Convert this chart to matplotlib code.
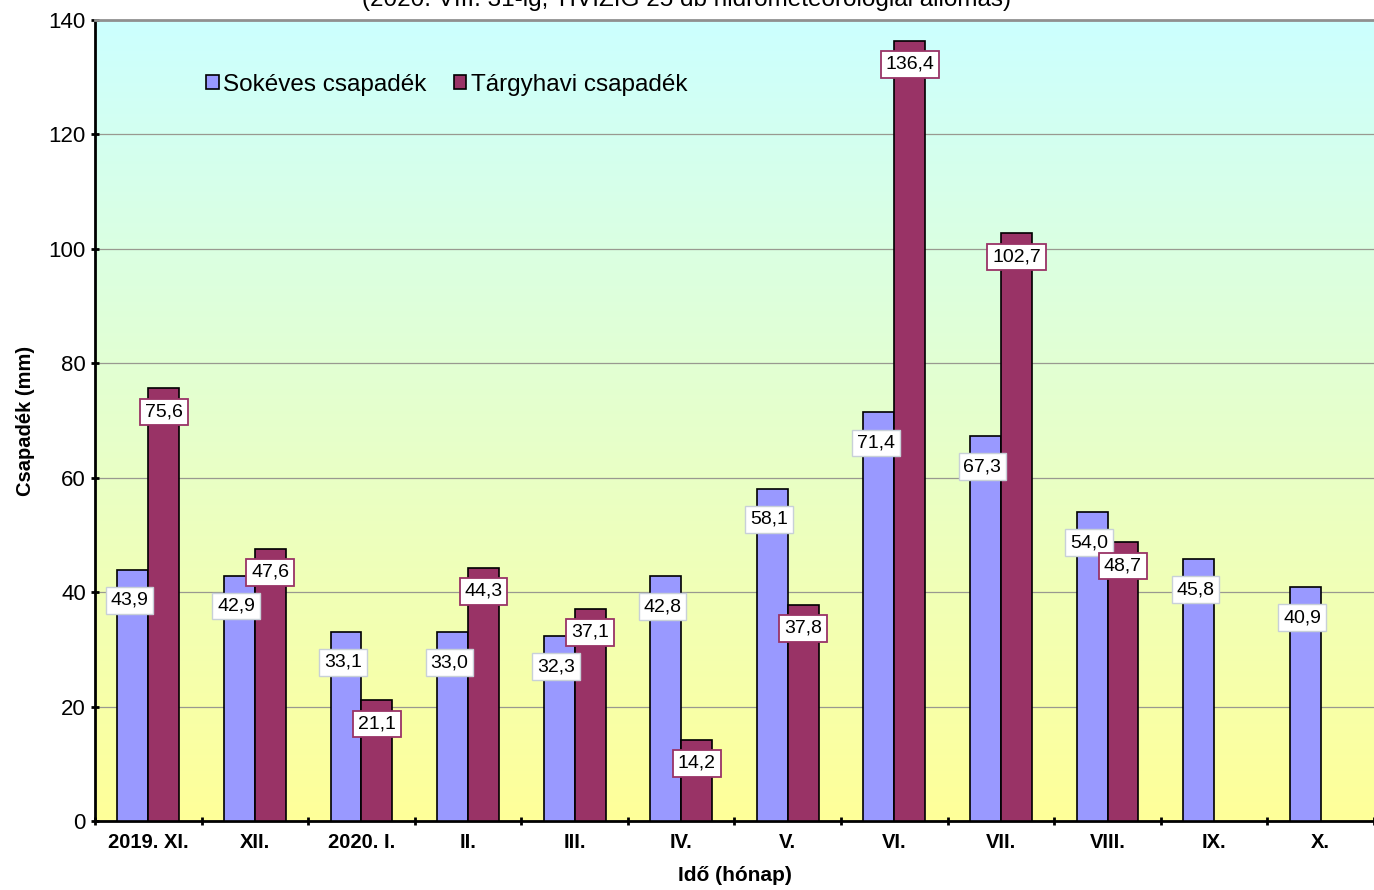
import matplotlib.pyplot as plt
import numpy as np

plt.rcParams["font.family"] = ["Liberation Sans", "DejaVu Sans"]

honapok = ["2019. XI.", "XII.", "2020. I.", "II.", "III.", "IV.", "V.", "VI.",
           "VII.", "VIII.", "IX.", "X."]
sokeves = [43.9, 42.9, 33.1, 33.0, 32.3, 42.8, 58.1, 71.4, 67.3, 54.0, 45.8, 40.9]
targyhavi = [75.6, 47.6, 21.1, 44.3, 37.1, 14.2, 37.8, 136.4, 102.7, 48.7, None, None]


def fmt(v):
    return f"{v:.1f}".replace(".", ",")


fig = plt.figure(figsize=(13.74, 8.90), dpi=100)
ax = fig.add_axes([95 / 1374, 69 / 890, 1279 / 1374, 801 / 890])

# háttér színátmenet (cián -> sárga)
top = np.array([0.80, 1.0, 1.0])
bot = np.array([1.0, 1.0, 0.60])
t = np.linspace(0, 1, 256)[:, None]
grad = (top * (1 - t) + bot * t)[:, None, :]
ax.imshow(grad, extent=[-0.5, 11.5, 0, 140], aspect="auto", zorder=0)

x = np.arange(len(honapok))
w = 0.29
ax.bar(x - w / 2, sokeves, w, color="#9999ff", edgecolor="black", linewidth=1.2,
       label="Sokéves csapadék", zorder=3)
tv = [np.nan if v is None else v for v in targyhavi]
ax.bar(x + w / 2, tv, w, color="#993366", edgecolor="black", linewidth=1.2,
       label="Tárgyhavi csapadék", zorder=3)

for xi, v in zip(x, sokeves):
    ax.annotate(fmt(v), (xi - w / 2 - 0.03, v), xytext=(0, -22), textcoords="offset points",
                ha="center", va="center", fontsize=14, zorder=5,
                bbox=dict(boxstyle="square,pad=0.25", fc="white", ec="#c8d0d8", lw=1))
for xi, v in zip(x, targyhavi):
    if v is None:
        continue
    ax.annotate(fmt(v), (xi + w / 2, v), xytext=(0, -17), textcoords="offset points",
                ha="center", va="center", fontsize=14, zorder=5,
                bbox=dict(boxstyle="square,pad=0.25", fc="white", ec="#993366", lw=1.3))

ax.set_xlim(-0.5, 11.5)
ax.set_ylim(0, 140)
ax.set_yticks(range(0, 141, 20))
ax.yaxis.grid(True, color="#999990", linewidth=0.9, zorder=1)
ax.set_axisbelow(True)
ax.set_xticks(x)
ax.set_xticklabels(honapok, fontsize=14.5, fontweight="bold")
ax.set_xticks(np.arange(-0.5, 12, 1), minor=True)
ax.tick_params(axis="x", which="major", length=0, pad=9)
ax.tick_params(axis="x", which="minor", length=6, width=2, direction="inout")
ax.tick_params(axis="y", length=6, width=2, direction="inout", labelsize=16)

for s in ["left", "bottom"]:
    ax.spines[s].set_linewidth(2)
ax.spines["top"].set_color("#909090")
ax.spines["top"].set_linewidth(2)
ax.spines["right"].set_visible(False)

ax.set_ylabel("Csapadék (mm)", fontsize=14.5, fontweight="bold", labelpad=10)
ax.set_xlabel("Idő (hónap)", fontsize=15, fontweight="bold", labelpad=10)

ax.legend(loc="upper left", bbox_to_anchor=(0.07, 0.96), ncol=2, frameon=False,
          fontsize=17.5, handlelength=0.5, handleheight=0.5, handletextpad=0.2,
          columnspacing=1.1)

fig.text(0.5, 1.0, "(2020. VIII. 31-ig, TIVIZIG 25 db hidrometeorológiai állomás)",
         ha="center", va="center", fontsize=17.5)

fig.savefig("out.png", dpi=100)
